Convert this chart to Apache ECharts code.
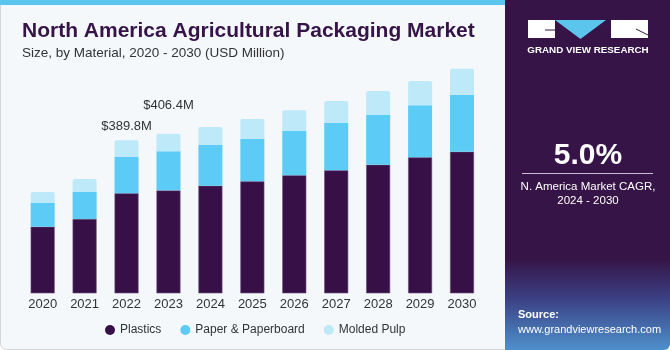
<!DOCTYPE html>
<html>
<head>
<meta charset="utf-8">
<script src="https://cdn.jsdelivr.net/npm/echarts@6/dist/echarts.min.js"></script>
<style>
  html, body { margin: 0; padding: 0; background: #fff; }
  #chart { width: 670px; height: 350px; }
</style>
</head>
<body>
<div id="chart"></div>
<script>
// data (USD Million)
var years = ["2020", "2021", "2022", "2023", "2024", "2025", "2026", "2027", "2028", "2029", "2030"];
var plastics = [169.7, 189.3, 254.8, 262.3, 274.2, 285.4, 300.7, 313.4, 327.7, 346.5, 360.8];
var paper = [60.4, 69.6, 92.5, 99.3, 104.5, 108.5, 112.9, 120.5, 127.4, 132.5, 145.2];
var molded = [28.0, 32.4, 42.5, 44.8, 45.1, 50.2, 52.7, 56.1, 60.4, 61.9, 66.2];
// which bars carry a total label, and how far above the bar
var labelled = { 2: 7, 3: 22 };

var FONT = "Arial, Liberation Sans, sans-serif";
var chart = echarts.init(document.getElementById("chart"));

var moldedData = molded.map(function (v, i) {
  var item = { value: v };
  if (labelled[i] !== undefined) {
    var total = plastics[i] + paper[i] + molded[i];
    item.label = {
      show: true,
      position: "top",
      distance: labelled[i],
      formatter: "$" + total.toFixed(1) + "M",
      color: "#333",
      fontSize: 13,
      fontFamily: FONT
    };
  }
  return item;
});

function txt(x, y, s, size, bold, align) {
  return { type: "text", style: { x: x, y: y, text: s, fill: "#ffffff", fontSize: size,
    fontWeight: bold ? "bold" : "normal", fontFamily: FONT,
    textAlign: align || "center", textVerticalAlign: "middle" } };
}

var option = {
  backgroundColor: "#ffffff",
  animation: false,
  title: {
    text: "North America Agricultural Packaging Market",
    subtext: "Size, by Material, 2020 - 2030 (USD Million)",
    left: 17,
    top: 16,
    itemGap: 4,
    textStyle: { color: "#361447", fontSize: 21, fontWeight: "bold", fontFamily: FONT },
    subtextStyle: { color: "#333", fontSize: 13.5, fontFamily: FONT }
  },
  legend: {
    bottom: 9,
    left: 100,
    itemGap: 19,
    itemWidth: 10,
    itemHeight: 10,
    icon: "circle",
    itemStyle: { borderWidth: 0 },
    textStyle: { color: "#333", fontSize: 12, fontFamily: FONT },
    data: ["Plastics", "Paper & Paperboard", "Molded Pulp"]
  },
  grid: { left: 21.7, right: 187, top: 57.8, bottom: 56.7, containLabel: false },
  xAxis: {
    type: "category",
    data: years,
    axisLine: { show: false },
    axisTick: { show: false },
    axisLabel: { color: "#333", fontSize: 13, margin: 5, fontFamily: FONT }
  },
  yAxis: {
    type: "value",
    min: 0,
    max: 600,
    show: false
  },
  graphic: [
    // left panel
    { type: "rect", z: -10, shape: { x: 0.5, y: 0, width: 510, height: 349.5, r: [0, 0, 0, 6] },
      style: { fill: "#f4f8fb", stroke: "#d4d6d8", lineWidth: 1 } },
    { type: "rect", z: -9, shape: { x: 0, y: 0, width: 510, height: 5 }, style: { fill: "#5bc5ee" } },
    // right panel
    { type: "rect", z: -8, shape: { x: 505, y: 0, width: 165, height: 350, r: [0, 0, 6, 0] },
      style: {
        fill: new echarts.graphic.LinearGradient(0, 0, 0, 1, [
          { offset: 0, color: "#361447" },
          { offset: 0.74, color: "#361447" },
          { offset: 0.85, color: "#3b3f82" },
          { offset: 1, color: "#4e90cc" }
        ])
      } },
    // logo
    { type: "rect", shape: { x: 528, y: 20, width: 27, height: 18 }, style: { fill: "#ffffff" } },
    { type: "polygon", shape: { points: [[555, 20], [606, 20], [580.5, 39]] }, style: { fill: "#5bc5ee" } },
    { type: "rect", shape: { x: 611, y: 20, width: 37, height: 18 }, style: { fill: "#ffffff" } },
    { type: "line", shape: { x1: 545, y1: 30, x2: 555, y2: 30 }, style: { stroke: "#361447", lineWidth: 1 } },
    { type: "line", shape: { x1: 636, y1: 29, x2: 648, y2: 35 }, style: { stroke: "#361447", lineWidth: 1 } },
    txt(588, 50, "GRAND VIEW RESEARCH", 9.8, true),
    // CAGR
    txt(588, 156, "5.0%", 30, true),
    { type: "line", shape: { x1: 522, y1: 173.5, x2: 653, y2: 173.5 }, style: { stroke: "#c9bfd0", lineWidth: 1 } },
    txt(588, 187, "N. America Market CAGR,", 11.5, false),
    txt(588, 201, "2024 - 2030", 11.5, false),
    // source
    txt(518, 315, "Source:", 11, true, "left"),
    txt(518, 330, "www.grandviewresearch.com", 11, false, "left")
  ],
  series: [
    {
      name: "Plastics",
      type: "bar",
      stack: "total",
      barWidth: 24,
      itemStyle: { color: "#381048", borderColor: "#6a4f7c", borderWidth: 0.6 },
      data: plastics
    },
    {
      name: "Paper & Paperboard",
      type: "bar",
      stack: "total",
      barWidth: 24,
      itemStyle: { color: "#5ccbf5" },
      data: paper
    },
    {
      name: "Molded Pulp",
      type: "bar",
      stack: "total",
      barWidth: 24,
      itemStyle: { color: "#bde9f9", borderRadius: [2, 2, 0, 0] },
      data: moldedData
    }
  ]
};

chart.setOption(option);
</script>
</body>
</html>
